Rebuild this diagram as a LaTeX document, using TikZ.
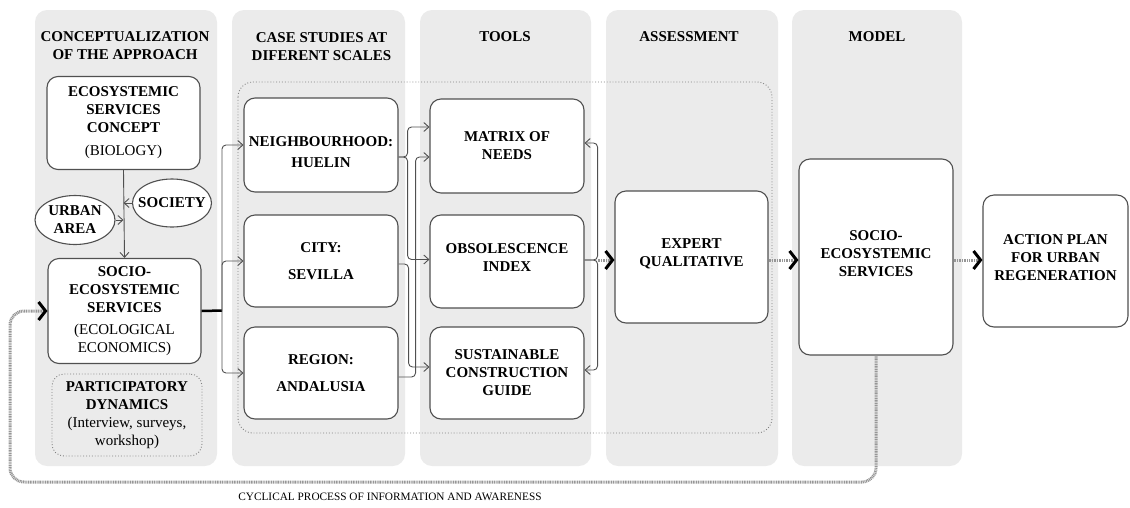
\documentclass[tikz,border=0pt]{standalone}
\usepackage{fontspec}
\setmainfont{Liberation Serif}
\usepackage{tikz}
\usetikzlibrary{shapes,arrows,arrows.meta,positioning,calc,backgrounds}

\definecolor{colfill}{RGB}{235,235,235}
\definecolor{boxline}{RGB}{80,80,80}
\definecolor{flowgray}{RGB}{150,150,150}

\tikzset{
 column/.style={fill=colfill,rounded corners=12pt},
 box/.style={draw=boxline,line width=1.1pt,fill=white,rounded corners=11pt,align=center,
   inner sep=0pt,font=\fontsize{15}{18}\selectfont\bfseries},
 dotbox/.style={draw=gray,dotted,line width=0.9pt,rounded corners=12pt,align=center,
   inner sep=0pt,font=\fontsize{15}{18}\selectfont\bfseries},
 oval/.style={ellipse,draw=boxline,line width=1.1pt,fill=white,align=center,
   inner xsep=-6pt,inner ysep=2pt,minimum width=79pt,minimum height=48pt,
   font=\fontsize{15}{18}\selectfont\bfseries},
 head/.style={align=center,font=\fontsize{15}{18}\selectfont\bfseries},
 conn/.style={draw=boxline,line width=0.9pt,rounded corners=4pt,
   -{Straight Barb[length=5pt,width=9pt]}},
 flow/.style={draw=flowgray,line width=3pt,dash pattern=on 1pt off 0.7pt,
   -{Straight Barb[length=7pt,width=18pt,line width=3pt,color=black]}},
 frame/.style={draw=gray,dotted,line width=0.9pt,rounded corners=15pt},
}

\begin{document}
\begin{tikzpicture}[x=1pt,y=-1pt]
\useasboundingbox (0,0) rectangle (1130,507);

\fill[column] (35,10) rectangle (217,466);
\fill[column] (232,10) rectangle (405,466);
\fill[column] (420,10) rectangle (591,466);
\fill[column] (606,10) rectangle (778,466);
\fill[column] (792,10) rectangle (962,466);

\draw[frame] (238,82) rectangle (772,433);

\node[head] (hconcept) at (125,46) {CONCEPTUALIZATION\\OF THE APPROACH};
\node[head] (hcases) at (321.5,47) {CASE STUDIES AT\\DIFERENT SCALES};
\node[head] (htools) at (505,37) {TOOLS};
\node[head] (hassess) at (689,37) {ASSESSMENT};
\node[head] (hmodel) at (877,37) {MODEL};

\node[box,minimum width=153pt,minimum height=93pt] (concept) at (123.5,123)
  {ECOSYSTEMIC\\SERVICES\\CONCEPT\\[5pt]\mdseries (BIOLOGY)};
\node[oval] (society) at (172,203) {SOCIETY};
\node[oval,minimum width=80pt,minimum height=49pt] (urban) at (75,220) {URBAN\\AREA};
\node[box,minimum width=153pt,minimum height=105pt] (socio) at (124.5,311)
  {SOCIO-\\ECOSYSTEMIC\\SERVICES\\[4pt]\mdseries (ECOLOGICAL\\\mdseries ECONOMICS)};
\node[dotbox,minimum width=150pt,minimum height=82pt] (particip) at (127,415)
  {PARTICIPATORY\\DYNAMICS\\\mdseries (Interview, surveys,\\\mdseries workshop)};

\node[box,minimum width=154pt,minimum height=94pt] (hood) at (321,145)
  {\rule{0pt}{24pt}NEIGHBOURHOOD:\\[3pt]HUELIN};
\node[box,minimum width=154pt,minimum height=92pt] (city) at (321,261) {CITY:\\[9pt]SEVILLA};
\node[box,minimum width=154pt,minimum height=92pt] (region) at (321,373) {REGION:\\[9pt]ANDALUSIA};

\node[box,minimum width=154pt,minimum height=94pt] (matrix) at (507,146) {MATRIX OF\\NEEDS};
\node[box,minimum width=154pt,minimum height=93pt] (obs) at (507,261.5)
  {OBSOLESCENCE\\INDEX\rule[-8pt]{0pt}{0pt}};
\node[box,minimum width=154pt,minimum height=92pt] (sust) at (507,373) {SUSTAINABLE\\CONSTRUCTION\\GUIDE};

\node[box,minimum width=153pt,minimum height=132pt] (expert) at (691.5,257)
  {EXPERT\\QUALITATIVE\rule[-8pt]{0pt}{0pt}};
\node[box,minimum width=154pt,minimum height=196pt] (model) at (876,257)
  {SOCIO-\\ECOSYSTEMIC\\SERVICES\rule[-6pt]{0pt}{0pt}};
\node[box,minimum width=145pt,minimum height=132pt] (plan) at (1055.5,261)
  {ACTION PLAN\\FOR URBAN\\REGENERATION\rule[-6pt]{0pt}{0pt}};

\node[font=\fontsize{11.3}{13}\selectfont] (cycle) at (390,497) {CYCLICAL PROCESS OF INFORMATION AND AWARENESS};

\coordinate (split) at (222,310.5);
\coordinate (axis) at (0,260);
\coordinate (loopturn) at (10,482);

\draw[conn] (concept.south) -- (socio.north);
\draw[conn] (society.west) -- (society.west -| concept.south);
\draw[conn] (urban.east) -- (urban.east -| concept.south);

\draw[line width=2.5pt] (socio.east) -- (split);
\draw[conn] (split) |- (hood.west);
\draw[conn] (split) |- (city.west);
\draw[conn] (split) |- (region.west);

\draw[conn] ($(hood.east)+(0,12)$) -- ++(9,0) |- ($(matrix.west)+(0,-19)$);
\draw[conn] ($(hood.east)+(0,12)$) -- ++(9,0) |- ($(obs.west)+(0,-2)$);
\draw[conn] ($(city.east)+(0,3)$) -- ++(10,0) |- ($(sust.west)+(0,-6)$);
\draw[conn] ($(region.east)+(0,4)$) -- ++(17,0) |- ($(matrix.west)+(0,11)$);

\draw[conn] (obs.east |- axis) -- ++(13,0) |- ($(matrix.east)+(0,-3)$);
\draw[conn] (obs.east |- axis) -- ++(13,0) |- ($(sust.east)+(0,-3)$);

\draw[flow] ($(obs.east |- axis)+(13,0)$) -- (expert.west |- axis);
\draw[flow] (expert.east |- axis) -- (model.west |- axis);
\draw[flow] (model.east |- axis) -- (plan.west |- axis);
\draw[flow,rounded corners=14pt] (model.south) |- (loopturn) |- (socio.west);
\end{tikzpicture}
\end{document}
